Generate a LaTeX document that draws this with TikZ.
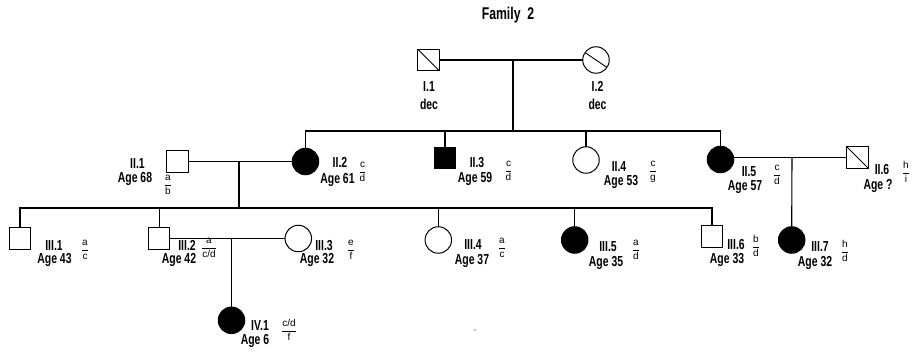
\documentclass[tikz,border=0pt]{standalone}
\usepackage{fontspec}
\setmainfont{Liberation Sans}[FakeStretch=0.72]
\newfontfamily\ffont{Liberation Sans}
\newcommand{\gf}[2]{$\displaystyle{\hbox{#1}\over\hbox{#2}}$}
\tikzset{
  pers/.style={draw, line width=1pt, inner sep=0pt, outer sep=0pt},
  sq/.style={pers, rectangle, minimum size=21.5pt},
  ci/.style={pers, circle, minimum size=26.5pt},
  aff/.style={fill=black},
  ln/.style={line width=1.1pt},
  lbl/.style={font=\bfseries\fontsize{14.5}{16}\selectfont, inner sep=0pt, anchor=base, text height=10.5pt, text depth=0pt},
  ttl/.style={font=\bfseries\fontsize{17}{18}\selectfont, inner sep=0pt, anchor=base},
  gfr/.style={font=\ffont\fontsize{10}{12}\selectfont, inner sep=0pt}
}
\begin{document}
\begin{tikzpicture}[x=1pt,y=-1pt]
\useasboundingbox (0,0) rectangle (913,355);
% title
\node[ttl] (title) at (508,19.5) {Family\ \ 2};
% generation I
\node[sq] (I1) at (428.5,60) {};
\node[ci] (I2) at (596,60) {};
\draw[line width=0.9pt] (I1.north west) -- (I1.south east);
\draw[line width=0.9pt] (I2.146) -- (I2.-34);
\node[lbl] (tI1) at (429,91.5) {I.1};
\node[lbl] (dI1) at (429,110) {dec};
\node[lbl] (tI2) at (597.5,91.5) {I.2};
\node[lbl] (dI2) at (597.5,110) {dec};
% generation II
\node[sq] (II1) at (177.7,161.5) {};
\node[ci,aff] (II2) at (305.5,161.5) {};
\node[sq,aff] (II3) at (445,158) {};
\node[ci] (II4) at (586,160) {};
\node[ci,aff] (II5) at (720.5,159.5) {};
\node[sq] (II6) at (857.5,157.5) {};
\draw[line width=0.9pt] (II6.north west) -- (II6.south east);
% generation III
\node[sq] (III1) at (20,238.3) {};
\node[sq] (III2) at (159.2,238.5) {};
\node[ci] (III3) at (298.3,238.5) {};
\node[ci] (III4) at (438.3,240) {};
\node[ci,aff] (III5) at (574.7,240) {};
\node[sq] (III6) at (712,236.7) {};
\node[ci,aff] (III7) at (791.7,240) {};
% generation IV
\node[ci,aff] (IV1) at (231.5,320.3) {};
% connectors
\coordinate (m1) at (513,60);
\coordinate (g2) at (305.5,131);
\draw[ln] (I1.east) -- (I2.west);
\draw[ln] (m1) -- (m1 |- g2);
\draw[ln] (II2.north) -- (II2.north |- g2) -- (II5.north |- g2) -- (II5.north);
\draw[ln] (II3.north) -- (II3.north |- g2);
\draw[ln] (II4.north) -- (II4.north |- g2);
\draw[ln] (II1.east) -- (II2.west);
\coordinate (m2) at (239,161.5);
\coordinate (g3) at (20,208);
\draw[ln] (m2) -- (m2 |- g3);
\draw[ln] (III1.north) -- (III1.north |- g3) -- (III6.north |- g3) -- (III6.north);
\draw[ln] (III2.north) -- (III2.north |- g3);
\draw[ln] (III4.north) -- (III4.north |- g3);
\draw[ln] (III5.north) -- (III5.north |- g3);
\draw[ln] (II6.west) -- (II6.west -| II5.east);
\coordinate (m3) at (792,157.5);
\draw[ln] (m3) -- (III7.north);
\draw[ln] (III2.east) -- (III3.west);
\coordinate (m4) at (231.5,238.5);
\draw[ln] (m4) -- (IV1.north);
% labels generation II
\node[lbl] (tII1) at (137.5,169) {II.1};
\node[lbl] (aII1) at (135,182.5) {Age 68};
\node[gfr] (fII1) at (168,185) {\gf{a}{b}};
\node[lbl] (tII2) at (340,168) {II.2};
\node[lbl] (aII2) at (337.5,183.3) {Age 61};
\node[gfr] (fII2) at (362.5,172) {\gf{c}{d}};
\node[lbl] (tII3) at (477,168) {II.3};
\node[lbl] (aII3) at (475,182.7) {Age 59};
\node[gfr] (fII3) at (508.5,171) {\gf{c}{d}};
\node[lbl] (tII4) at (619,172) {II.4};
\node[lbl] (aII4) at (621,186) {Age 53};
\node[gfr] (fII4) at (653,172) {\gf{c}{g}};
\node[lbl] (tII5) at (749,176.7) {II.5};
\node[lbl] (aII5) at (745,191) {Age 57};
\node[gfr] (fII5) at (777,175) {\gf{c}{d}};
\node[lbl] (tII6) at (882,175) {II.6};
\node[lbl] (aII6) at (878,189.3) {Age ?};
\node[gfr] (fII6) at (906,172) {\gf{h}{i}};
% labels generation III
\node[lbl] (tIII1) at (54,250.7) {III.1};
\node[lbl] (aIII1) at (54.5,264) {Age 43};
\node[gfr] (fIII1) at (85,250) {\gf{a}{c}};
\node[lbl] (tIII2) at (187,250.7) {III.2};
\node[lbl] (aIII2) at (179,264) {Age 42};
\node[gfr] (fIII2) at (209,248) {\gf{a}{c/d}};
\node[lbl] (tIII3) at (324,250.7) {III.3};
\node[lbl] (aIII3) at (317,264) {Age 32};
\node[gfr] (fIII3) at (351,250) {\gf{e}{f}};
\node[lbl] (tIII4) at (473,250) {III.4};
\node[lbl] (aIII4) at (472,264.3) {Age 37};
\node[gfr] (fIII4) at (502,248) {\gf{a}{c}};
\node[lbl] (tIII5) at (608,251.7) {III.5};
\node[lbl] (aIII5) at (606,266.7) {Age 35};
\node[gfr] (fIII5) at (636,250) {\gf{a}{d}};
\node[lbl] (tIII6) at (736,249.3) {III.6};
\node[lbl] (aIII6) at (727,263.3) {Age 33};
\node[gfr] (fIII6) at (756,246) {\gf{b}{d}};
\node[lbl] (tIII7) at (820,251.7) {III.7};
\node[lbl] (aIII7) at (815,266.7) {Age 32};
\node[gfr] (fIII7) at (845,251) {\gf{h}{d}};
% labels generation IV
\node[lbl] (tIV1) at (260,330.7) {IV.1};
\node[lbl] (aIV1) at (255,344.3) {Age 6};
\node[gfr] (fIV1) at (289,330) {\gf{c/d}{f}};
% speck
\fill (475,330) circle (0.7pt);
\end{tikzpicture}
\end{document}
